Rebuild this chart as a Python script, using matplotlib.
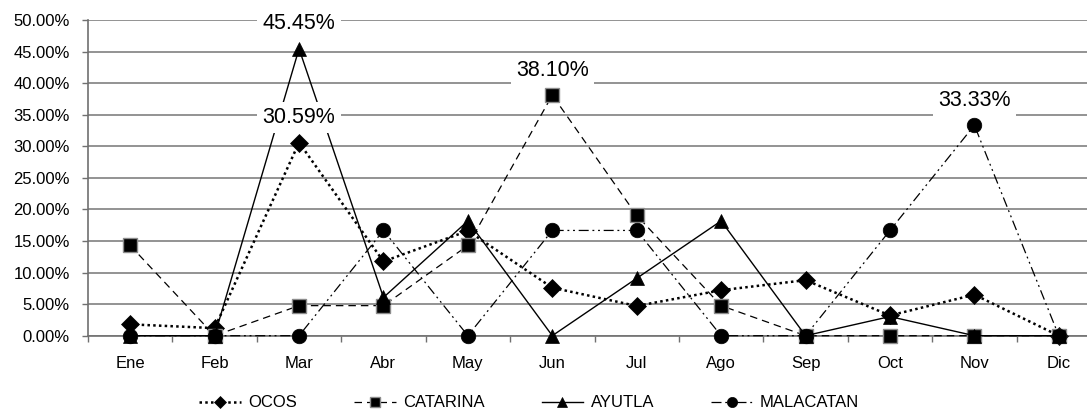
import matplotlib
matplotlib.use("Agg")
import matplotlib.pyplot as plt
from matplotlib.ticker import FixedLocator, FuncFormatter

plt.rcParams['font.family'] = ['Liberation Sans', 'DejaVu Sans']

months = ["Ene", "Feb", "Mar", "Abr", "May", "Jun", "Jul", "Ago", "Sep", "Oct", "Nov", "Dic"]

ocos = [1.8, 1.2, 30.59, 11.76, 16.6, 7.6, 4.71, 7.2, 8.8, 3.2, 6.5, 0.0]
catarina = [14.29, 0.0, 4.76, 4.76, 14.29, 38.10, 19.05, 4.76, 0.0, 0.0, 0.0, 0.0]
ayutla = [0.0, 0.0, 45.45, 6.06, 18.18, 0.0, 9.09, 18.18, 0.0, 3.03, 0.0, 0.0]
malacatan = [0.0, 0.0, 0.0, 16.67, 0.0, 16.67, 16.67, 0.0, 0.0, 16.67, 33.33, 0.0]

series_names = ["OCOS", "CATARINA", "AYUTLA", "MALACATAN"]

W, H, DPI = 1087, 412, 100
fig = plt.figure(figsize=(W / DPI, H / DPI), dpi=DPI)
ax = fig.add_axes([88 / W, (H - 335.7) / H, (1101 - 88) / W, 315.7 / H])

x = list(range(len(months)))
grid_col = "#808080"

styles = [
    dict(ls=(0, (1.0, 1.3)), lw=1.8, marker="D", ms=9, mfc="black", mec="black", mew=0.5),
    dict(ls=(0, (6, 4)), lw=0.9, marker="s", ms=10, mfc="black", mec="#8c8c8c", mew=1.0),
    dict(ls="-", lw=1.0, marker="^", ms=10.5, mfc="black", mec="black", mew=0.5),
    dict(ls=(0, (8, 3, 1.5, 3, 1.5, 3)), lw=0.9, marker="o", ms=10.5, mfc="black", mec="black", mew=0.5),
]
data = [ocos, catarina, ayutla, malacatan]

for vals, name, st in zip(data, series_names, styles):
    ax.plot(x, vals, color="black", linestyle=st["ls"], linewidth=st["lw"],
            marker=st["marker"], markersize=st["ms"], markerfacecolor=st["mfc"],
            markeredgecolor=st["mec"], markeredgewidth=st["mew"], label=name,
            zorder=3, clip_on=False)

# peak value labels with white boxes
for vals in data:
    i = max(range(len(vals)), key=lambda k: vals[k])
    ax.annotate(f"{vals[i]:.2f}%", (x[i], vals[i]), xytext=(0, 18),
                textcoords="offset points", ha="center", va="center",
                fontsize=15.5, color="black", zorder=6,
                bbox=dict(boxstyle="square,pad=0.25", fc="white", ec="none"))

ax.set_xlim(-0.5, len(months) - 0.5)
ax.set_ylim(0, 50)

ax.yaxis.set_major_locator(FixedLocator([i * 5 for i in range(11)]))
ax.yaxis.set_major_formatter(FuncFormatter(lambda v, p: f"{v:.2f}%"))
ax.grid(axis="y", color=grid_col, linewidth=1.2, zorder=0)
ax.set_axisbelow(True)

ax.set_xticks(x)
ax.set_xticklabels(months)
ax.xaxis.set_minor_locator(FixedLocator([k - 0.5 for k in range(len(months) + 1)]))
ax.tick_params(axis="x", which="major", length=0, pad=14.5, labelsize=12)
ax.tick_params(axis="x", which="minor", length=4.5, width=1.0, color="#707070", direction="out")
ax.tick_params(axis="y", length=4.5, width=1.0, color="#707070", direction="out",
               pad=8.5, labelsize=12)

for side in ("top", "right"):
    ax.spines[side].set_visible(False)
for side in ("left", "bottom"):
    ax.spines[side].set_color("#707070")
    ax.spines[side].set_linewidth(1.2)

fig.legend(loc="center", bbox_to_anchor=(0.487, 0.022), ncol=4, frameon=False,
           fontsize=12, handlelength=2.5, handletextpad=0.45, columnspacing=3.4,
           markerscale=0.7)

fig.savefig("out.png", dpi=DPI)
